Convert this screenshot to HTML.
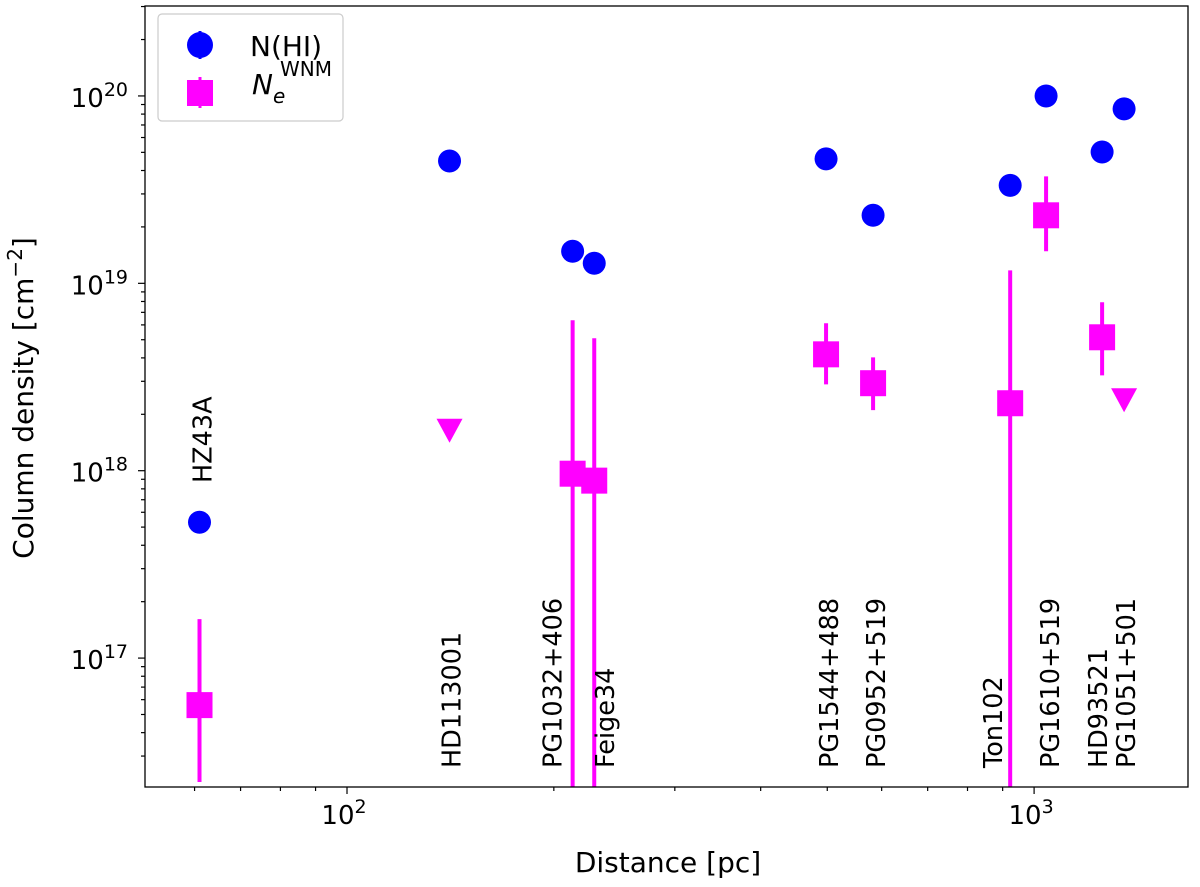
<!DOCTYPE html>
<html><head><meta charset="utf-8"><style>
html,body{margin:0;padding:0;background:#fff;width:1200px;height:887px;overflow:hidden;position:relative}
svg{display:block}
svg text{font-family:"DejaVu Sans","Liberation Sans",sans-serif;fill:#000}
</style></head><body>
<svg id="chart" width="1200" height="887" viewBox="0 0 1200 887" style="position:absolute;left:0;top:0" xmlns="http://www.w3.org/2000/svg">
<g id="marks"></g>
<g id="axes"></g>
</svg>
<script>
const names=["HZ43A","HD113001","PG1032+406","Feige34","PG1544+488","PG0952+519","Ton102","PG1610+519","HD93521","PG1051+501"];
const distances=[61,141,213,229,498,583,923,1041,1256,1352];
const logNHI=[17.725,19.653,19.171,19.107,19.664,19.363,19.523,20.0,19.701,19.931];
const logNe=[16.749,18.213,17.984,17.947,18.621,18.467,18.36,19.363,18.712,18.376];
const logNeHi=[17.208,null,18.803,18.707,18.787,18.605,19.069,19.571,18.899,null];
const logNeLo=[16.339,null,15,15,18.461,18.323,15,19.171,18.509,null];
const upperLimit=[false,true,false,false,false,false,false,false,false,true];
const xTicks=[100,1000];const xTickLabels=["2","3"];
const yTicks=[17,18,19,20];

const L=145,R=1188,T=6,B=787;
const xmin=1.706,xmax=3.224,ymin=16.312,ymax=20.48;
const X=d=>L+(Math.log10(d)-xmin)/(xmax-xmin)*(R-L);
const Y=v=>B-(v-ymin)/(ymax-ymin)*(B-T);
const NS="http://www.w3.org/2000/svg";
function mk(tag,attrs,parent){const e=document.createElementNS(NS,tag);for(const k in attrs)e.setAttribute(k,attrs[k]);parent.appendChild(e);return e;}
const marks=document.getElementById('marks'),axes=document.getElementById('axes');
const clip=mk('clipPath',{id:'pc'},document.getElementById('chart'));mk('rect',{x:L,y:T,width:R-L,height:B-T},clip);
marks.setAttribute('clip-path','url(#pc)');
distances.forEach((d,i)=>{
 const c=mk('circle',{cx:X(d),cy:Y(logNHI[i]),r:11.5,fill:'#0000ff'},marks);
 
 
});
distances.forEach((d,i)=>{
 const x=X(d),y=Y(logNe[i]);
 if(upperLimit[i]){
  const t=mk('polygon',{points:`${x-13},${y-12} ${x+13},${y-12} ${x},${y+12}`,fill:'#ff00ff'},marks);
  
  
 }else{
  const l=mk('line',{x1:x,x2:x,y1:Y(logNeHi[i]),y2:Y(logNeLo[i]),stroke:'#ff00ff','stroke-width':4},marks);
  
  
  const s=mk('rect',{x:x-13,y:y-13,width:26,height:26,fill:'#ff00ff'},marks);
  
  
 }
});
const labelDx=[3,2,-20,11,3,3,-17,4,-4,2];
distances.forEach((d,i)=>{
 const x=X(d)+labelDx[i];
 const yb=i===0?483:768;
 const t=mk('text',{x:0,y:0,'font-size':25.5,'text-anchor':'start',transform:`translate(${x+9},${yb}) rotate(-90)`},axes);
 t.textContent=names[i];
 
 
});
mk('rect',{x:L,y:T,width:R-L,height:B-T,fill:'none',stroke:'#000','stroke-width':1.3},axes);
for(let e=1;e<=3;e++)for(let m=1;m<10;m++){
 const d=m*Math.pow(10,e);const lv=Math.log10(d);if(lv<xmin||lv>xmax)continue;
 const x=X(d);mk('line',{x1:x,x2:x,y1:B,y2:B+(m===1?7:4),stroke:'#000','stroke-width':1.2},axes);
}
xTicks.forEach((d,i)=>{const t=mk('text',{x:X(d)-3,y:B+37,'font-size':26,'text-anchor':'middle'},axes);
 t.innerHTML='10<tspan dy="-11" font-size="19">'+xTickLabels[i]+'</tspan>';
 });
for(let e=16;e<=20;e++)for(let m=1;m<10;m++){
 const lv=e+Math.log10(m);if(lv<ymin||lv>ymax)continue;
 const y=Y(lv);mk('line',{x1:L,x2:L-(m===1?7:4),y1:y,y2:y,stroke:'#000','stroke-width':1.2},axes);
}
yTicks.forEach(v=>{const t=mk('text',{x:L-17,y:Y(v)+11,'font-size':26,'text-anchor':'end'},axes);
 t.innerHTML='10<tspan dy="-11" font-size="19">'+v+'</tspan>';
 });
</script>
<svg width="1200" height="887" style="position:absolute;left:0;top:0" xmlns="http://www.w3.org/2000/svg">
<text x="668" y="872" font-size="28" text-anchor="middle">Distance [pc]</text>
<text transform="translate(33,398) rotate(-90)" font-size="28" text-anchor="middle">Column density [cm<tspan dy="-11" font-size="20">−2</tspan><tspan dy="11">]</tspan></text>
<g>
<rect x="158" y="14" width="185" height="107" rx="4" fill="#fff" stroke="#ccc" stroke-width="1.2"/>
<line x1="200" x2="200" y1="31" y2="59" stroke="#0000ff" stroke-width="3"/>
<circle cx="200" cy="45" r="13" fill="#0000ff"/>
<text x="250" y="56" font-size="28">N(HI)</text>
<line x1="200" x2="200" y1="77" y2="108" stroke="#ff00ff" stroke-width="3"/>
<rect x="187" y="80" width="26" height="26" fill="#ff00ff"/>
<text x="252" y="94" font-size="28" font-style="italic">N<tspan dy="9" font-size="20">e</tspan><tspan x="280" y="76" font-size="20" font-style="normal">WNM</tspan></text>
</g>
</svg>
</body></html>
